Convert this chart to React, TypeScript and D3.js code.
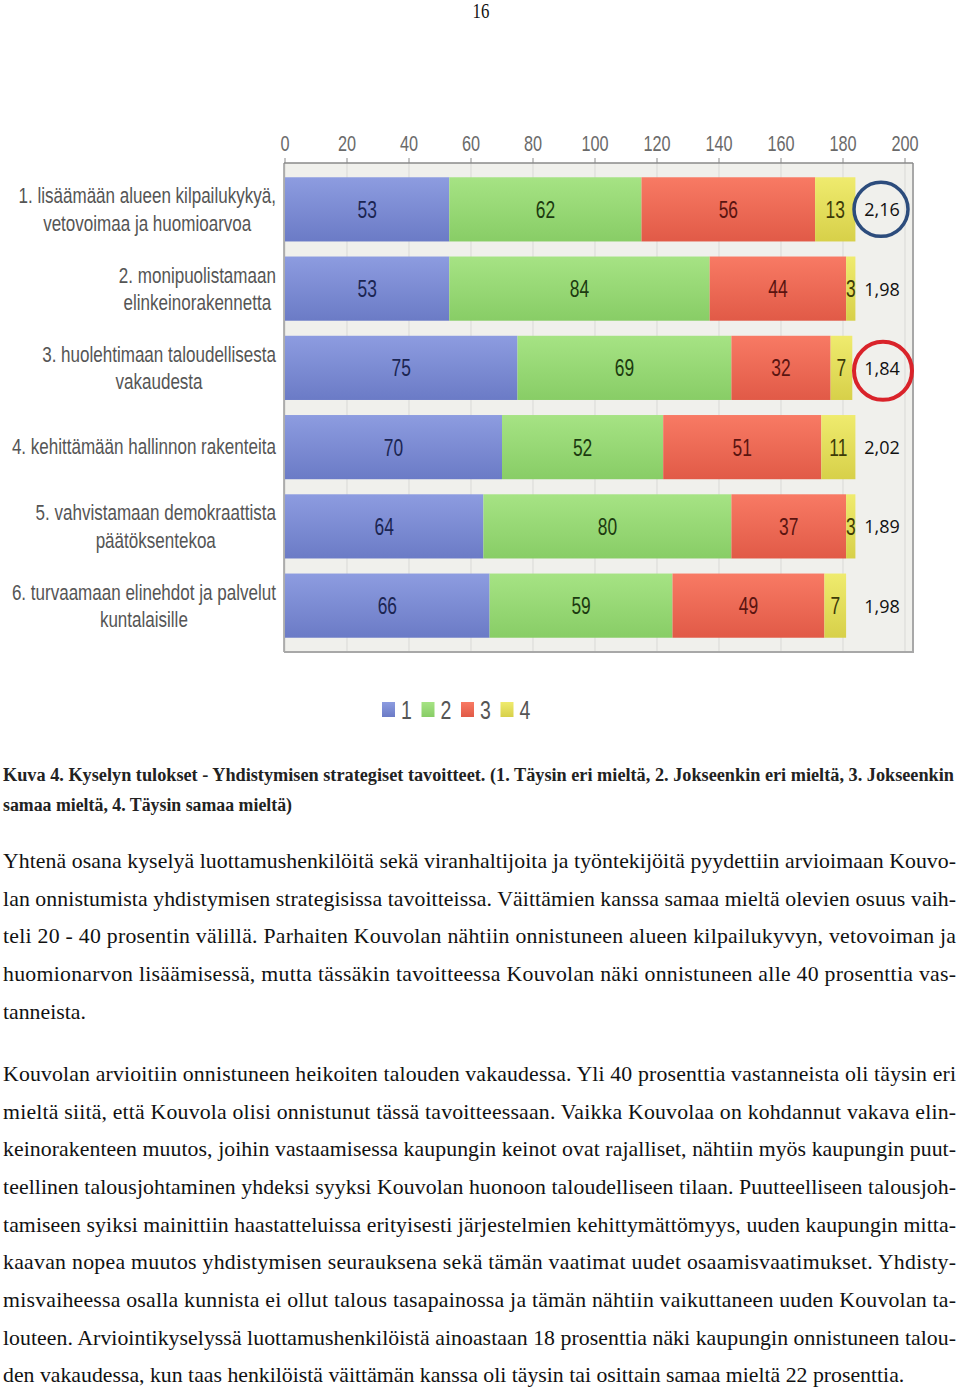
import React, { useEffect, useRef } from 'react';
import * as d3 from 'd3';

const categoryLines: string[][] = [
  ['1. lisäämään alueen kilpailukykyä,', 'vetovoimaa ja huomioarvoa'],
  ['2. monipuolistamaan', 'elinkeinorakennetta'],
  ['3. huolehtimaan taloudellisesta', 'vakaudesta'],
  ['4. kehittämään hallinnon rakenteita'],
  ['5. vahvistamaan demokraattista', 'päätöksentekoa'],
  ['6. turvaamaan elinehdot ja palvelut', 'kuntalaisille'],
];
const series1 = [53, 53, 75, 70, 64, 66];
const series2 = [62, 84, 69, 52, 80, 59];
const series3 = [56, 44, 32, 51, 37, 49];
const series4 = [13, 3, 7, 11, 3, 7];
const seriesNames = ['1', '2', '3', '4'];
const averages = ['2,16', '1,98', '1,84', '2,02', '1,89', '1,98'];
const circledRows = [0, 2];
const xTicks = [0, 20, 40, 60, 80, 100, 120, 140, 160, 180, 200];

const pageNumber = '16';
const captionLines = [
  'Kuva 4. Kyselyn tulokset - Yhdistymisen strategiset tavoitteet. (1. Täysin eri mieltä, 2. Jokseenkin eri mieltä, 3. Jokseenkin',
  'samaa mieltä, 4. Täysin samaa mieltä)',
];
const paragraph1 = [
  'Yhtenä osana kyselyä luottamushenkilöitä sekä viranhaltijoita ja työntekijöitä pyydettiin arvioimaan Kouvo-',
  'lan onnistumista yhdistymisen strategisissa tavoitteissa. Väittämien kanssa samaa mieltä olevien osuus vaih-',
  'teli 20 - 40 prosentin välillä. Parhaiten Kouvolan nähtiin onnistuneen alueen kilpailukyvyn, vetovoiman ja',
  'huomionarvon lisäämisessä, mutta tässäkin tavoitteessa Kouvolan näki onnistuneen alle 40 prosenttia vas-',
  'tanneista.',
];
const paragraph2 = [
  'Kouvolan arvioitiin onnistuneen heikoiten talouden vakaudessa. Yli 40 prosenttia vastanneista oli täysin eri',
  'mieltä siitä, että Kouvola olisi onnistunut tässä tavoitteessaan. Vaikka Kouvolaa on kohdannut vakava elin-',
  'keinorakenteen muutos, joihin vastaamisessa kaupungin keinot ovat rajalliset, nähtiin myös kaupungin puut-',
  'teellinen talousjohtaminen yhdeksi syyksi Kouvolan huonoon taloudelliseen tilaan. Puutteelliseen talousjoh-',
  'tamiseen syiksi mainittiin haastatteluissa erityisesti järjestelmien kehittymättömyys, uuden kaupungin mitta-',
  'kaavan nopea muutos yhdistymisen seurauksena sekä tämän vaatimat uudet osaamisvaatimukset. Yhdisty-',
  'misvaiheessa osalla kunnista ei ollut talous tasapainossa ja tämän nähtiin vaikuttaneen uuden Kouvolan ta-',
  'louteen. Arviointikyselyssä luottamushenkilöistä ainoastaan 18 prosenttia näki kaupungin onnistuneen talou-',
  'den vakaudessa, kun taas henkilöistä väittämän kanssa oli täysin tai osittain samaa mieltä 22 prosenttia.',
];

const SANS = '"Liberation Sans", Arial, sans-serif';
const SERIF = '"Liberation Serif", "Times New Roman", serif';

const colors = [
  { top: '#8d9ce0', bottom: '#6b7bc6', text: '#1b2552' },
  { top: '#a6e384', bottom: '#88cd66', text: '#1c3b10' },
  { top: '#f87a64', bottom: '#e15a47', text: '#5a1410' },
  { top: '#efeb6e', bottom: '#d7d049', text: '#3d3a08' },
];
const circleColors = ['#2c4c7c', '#d9232a'];

const narrowAt = (x: number, y: number, sx = 0.8) => `translate(${x},${y}) scale(${sx},1)`;

export default function App() {
  const ref = useRef<SVGSVGElement>(null);

  useEffect(() => {
    const svg = d3.select(ref.current);
    svg.selectAll('*').remove();

    const defs = svg.append('defs');
    colors.forEach((c, i) => {
      const g = defs.append('linearGradient').attr('id', `g${i}`).attr('x1', 0).attr('y1', 0).attr('x2', 0).attr('y2', 1);
      g.append('stop').attr('offset', '0%').attr('stop-color', c.top);
      g.append('stop').attr('offset', '100%').attr('stop-color', c.bottom);
    });

    // page number
    svg.append('text').attr('transform', narrowAt(481, 18, 0.8)).attr('text-anchor', 'middle')
      .attr('font-family', SERIF).attr('font-size', 21).attr('fill', '#111').text(pageNumber);

    const plotLeft = 284, plotRight = 913, plotTop = 163, plotBottom = 652;
    const x = d3.scaleLinear().domain([0, 200]).range([285, 905]);
    const rows = d3.range(categoryLines.length);
    const y = d3.scaleBand<number>().domain(rows).range([plotTop, plotBottom]).paddingInner(0.19).paddingOuter(0.18);

    // plot background
    svg.append('rect').attr('x', plotLeft).attr('y', plotTop).attr('width', plotRight - plotLeft)
      .attr('height', plotBottom - plotTop).attr('fill', '#f0f0ec');

    // gridlines
    svg.append('g').selectAll('line').data(xTicks).join('line')
      .attr('x1', d => x(d)).attr('x2', d => x(d)).attr('y1', plotTop).attr('y2', plotBottom)
      .attr('stroke', '#d9d9d6').attr('stroke-width', 1);

    // frame
    svg.append('line').attr('x1', plotLeft).attr('x2', plotLeft).attr('y1', plotTop).attr('y2', plotBottom)
      .attr('stroke', '#9a9a9a').attr('stroke-width', 1.5);
    svg.append('line').attr('x1', plotRight).attr('x2', plotRight).attr('y1', plotTop).attr('y2', plotBottom + 1)
      .attr('stroke', '#a8a8a8').attr('stroke-width', 2);
    svg.append('line').attr('x1', plotLeft).attr('x2', plotRight + 1).attr('y1', plotBottom).attr('y2', plotBottom)
      .attr('stroke', '#a8a8a8').attr('stroke-width', 2);

    // top axis
    svg.append('line').attr('x1', plotLeft).attr('x2', plotRight).attr('y1', plotTop).attr('y2', plotTop)
      .attr('stroke', '#8a8a8a').attr('stroke-width', 1.5);
    svg.append('g').selectAll('line').data(xTicks).join('line')
      .attr('x1', d => x(d)).attr('x2', d => x(d)).attr('y1', plotTop - 5).attr('y2', plotTop)
      .attr('stroke', '#8a8a8a').attr('stroke-width', 1);
    svg.append('g').selectAll('text').data(xTicks).join('text')
      .attr('transform', d => narrowAt(x(d), 151, 0.74)).attr('text-anchor', 'middle')
      .attr('font-family', SANS).attr('font-size', 22).attr('fill', '#6a6a6a')
      .text(d => String(d));

    // stacked bars
    const seriesData = [series1, series2, series3, series4];
    const tableRows = rows.map(i => ({ i, s0: series1[i], s1: series2[i], s2: series3[i], s3: series4[i] }));
    const stack = d3.stack<any>().keys(['s0', 's1', 's2', 's3']);
    const stacked = stack(tableRows);
    stacked.forEach((layer, si) => {
      const g = svg.append('g');
      g.selectAll('rect').data(layer).join('rect')
        .attr('x', d => x(d[0])).attr('width', d => x(d[1]) - x(d[0]))
        .attr('y', (d: any) => y(d.data.i)!).attr('height', y.bandwidth())
        .attr('fill', `url(#g${si})`);
      g.selectAll('text').data(layer).join('text')
        .attr('transform', (d: any) => narrowAt((x(d[0]) + x(d[1])) / 2, y(d.data.i)! + y.bandwidth() / 2 + 8.5, 0.74))
        .attr('text-anchor', 'middle').attr('font-family', SANS).attr('font-size', 23.5)
        .attr('fill', colors[si].text)
        .text((d: any) => String(seriesData[si][d.data.i]));
    });

    // averages
    svg.append('g').selectAll('text').data(rows).join('text')
      .attr('x', 882).attr('y', i => y(i)! + y.bandwidth() / 2 + 7)
      .attr('text-anchor', 'middle').attr('font-family', '"Open Sans", sans-serif').attr('font-size', 18)
      .attr('fill', '#111').text(i => averages[i]);
    svg.append('g').selectAll('circle').data(circledRows).join('circle')
      .attr('cx', (r, k) => (k === 0 ? 881 : 883)).attr('cy', r => y(r)! + y.bandwidth() / 2 + (r === 2 ? 3 : 0))
      .attr('r', (r, k) => (k === 0 ? 27 : 29))
      .attr('fill', 'none').attr('stroke', (r, k) => circleColors[k]).attr('stroke-width', (r, k) => (k === 0 ? 3.5 : 4));

    // category labels: centred block, right-aligned
    const labelRight = 276;
    const labelSx = 0.8;
    rows.forEach(i => {
      const lines = categoryLines[i];
      const cy = y(i)! + y.bandwidth() / 2;
      const g = svg.append('g');
      const texts = g.selectAll('text').data(lines).join('text')
        .attr('font-family', SANS).attr('font-size', 21.3).attr('fill', '#555')
        .attr('text-anchor', 'middle')
        .text(d => d);
      let maxW = 0;
      texts.each(function () { maxW = Math.max(maxW, (this as SVGTextElement).getComputedTextLength() * labelSx); });
      texts.attr('transform', (d, k) => narrowAt(labelRight - maxW / 2, lines.length === 1 ? cy + 7 : cy - 6 + k * 27.5, labelSx));
    });

    // legend
    const lg = svg.append('g');
    seriesNames.forEach((n, i) => {
      const lx = 382 + i * 39.5;
      lg.append('rect').attr('x', lx).attr('y', 702).attr('width', 13).attr('height', 15).attr('fill', `url(#g${i})`);
      lg.append('text').attr('transform', narrowAt(lx + 19, 719, 0.78)).attr('font-family', SANS).attr('font-size', 25)
        .attr('fill', '#555').text(n);
    });

    // caption
    captionLines.forEach((t, k) => {
      const el = svg.append('text').attr('x', 3).attr('y', 781 + k * 30)
        .attr('font-family', SERIF).attr('font-weight', 'bold').attr('font-size', 18.5).attr('fill', '#222')
        .text(t);
      el.attr('textLength', k === 0 ? 951 : 289).attr('lengthAdjust', 'spacingAndGlyphs');
    });

    // body text — calibrate font size on the last (unjustified) line
    const probe = svg.append('text').attr('font-family', SERIF).attr('font-size', 20).text(paragraph2[paragraph2.length - 1]);
    const w = (probe.node() as SVGTextElement).getComputedTextLength();
    probe.remove();
    const fs = 20 * 902 / w;
    const drawPara = (lines: string[], y0: number) => {
      lines.forEach((t, k) => {
        const el = svg.append('text').attr('x', 3).attr('y', y0 + k * 37.65)
          .attr('font-family', SERIF).attr('font-size', fs).attr('fill', '#111').text(t);
        if (k < lines.length - 1) el.attr('textLength', 953).attr('lengthAdjust', 'spacing');
      });
    };
    drawPara(paragraph1, 868);
    drawPara(paragraph2, 1081);
  }, []);

  return (
    <svg ref={ref} width={960} height={1390}
      style={{ position: 'absolute', left: 0, top: 0, background: '#fff', display: 'block' }} />
  );
}
